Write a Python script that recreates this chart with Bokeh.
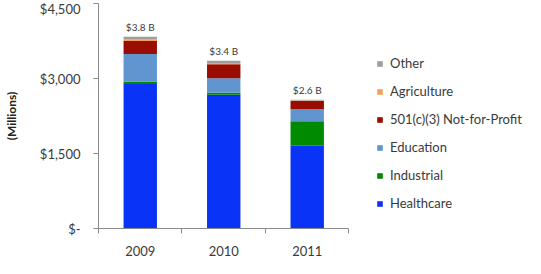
from bokeh.plotting import figure
from bokeh.models import (ColumnDataSource, Range1d, FixedTicker, Legend, LegendItem)
from bokeh.core.properties import value
from bokeh.embed import file_html
from bokeh.resources import INLINE

years = ["2009", "2010", "2011"]
healthcare = [2888, 2675, 1653]
industrial = [54, 40, 492]
education = [550, 292, 239]
nonprofit = [259, 279, 166]
agriculture = [30, 25, 10]
other = [54, 46, 15]
totals_text = ["$3.8 B", "$3.4 B", "$2.6 B"]

series_names = ["Healthcare", "Industrial", "Education", "501(c)(3) Not-for-Profit", "Agriculture", "Other"]
series_keys = ["healthcare", "industrial", "education", "nonprofit", "agriculture", "other"]
colors = ["#0A33F8", "#008A00", "#6195CF", "#990C00", "#F6A157", "#9E9E9E"]

y_ticks = [0, 1500, 3000, 4500]
y_tick_labels = ["$-", "$1,500", "$3,000", "$4,500"]

FONT = "Lato"
TXT = "#3A3A3A"
AXIS = "#8A8A8A"

FIG_W, FIG_H = 525, 258
LEFT, RIGHT, TOP, BOTTOM = 92, 1, 3, 29
CAT_AREA_PX = 254  # pixel width of the category area (axis length)

centers = [i + 0.5 for i in range(len(years))]
bounds = list(range(len(years) + 1))
totals = [sum(v) for v in zip(healthcare, industrial, education, nonprofit, agriculture, other)]

src = ColumnDataSource(dict(x=centers, healthcare=healthcare, industrial=industrial,
                            education=education, nonprofit=nonprofit,
                            agriculture=agriculture, other=other,
                            total=totals, label=totals_text))

x_end = len(years) * (FIG_W - LEFT - RIGHT) / CAT_AREA_PX

p = figure(width=FIG_W, height=FIG_H, output_backend="svg", toolbar_location=None,
           x_range=Range1d(0, x_end), y_range=Range1d(0, 4500),
           min_border_left=LEFT, min_border_right=RIGHT, min_border_top=TOP, min_border_bottom=BOTTOM)
p.outline_line_color = None
p.grid.grid_line_color = None

renderers = p.vbar_stack(series_keys, x="x", width=0.4, color=colors, line_color=None, source=src)

p.text(x="x", y="total", text="label", source=src, text_align="center", text_baseline="bottom",
       y_offset=-4, text_font=value(FONT), text_font_size="10px", text_color=TXT)

# y axis
ya = p.yaxis[0]
ya.ticker = FixedTicker(ticks=y_ticks)
ya.major_label_overrides = {t: l for t, l in zip(y_ticks, y_tick_labels)}
ya.axis_line_color = AXIS
ya.major_tick_line_color = AXIS
ya.major_tick_out = 5
ya.major_tick_in = 0
ya.minor_tick_line_color = None
ya.major_label_standoff = 13
ya.major_label_text_font = FONT
ya.major_label_text_font_size = "13px"
ya.major_label_text_color = TXT
ya.axis_label = "(Millions)"
ya.axis_label_text_font = FONT
ya.axis_label_text_font_style = "bold"
ya.axis_label_text_font_size = "12px"
ya.axis_label_text_color = "#222222"
ya.axis_label_standoff = 18

# x axis
xa = p.xaxis[0]
xa.bounds = (0, len(years))
xa.ticker = FixedTicker(ticks=centers, minor_ticks=bounds)
xa.major_label_overrides = {c: y for c, y in zip(centers, years)}
xa.axis_line_color = AXIS
xa.major_tick_line_color = None
xa.major_tick_out = 0
xa.major_tick_in = 0
xa.minor_tick_line_color = AXIS
xa.minor_tick_out = 5
xa.minor_tick_in = 0
xa.major_label_standoff = 12
xa.axis_label_standoff = 0
xa.major_label_text_font = FONT
xa.major_label_text_font_size = "13px"
xa.major_label_text_color = TXT

items = [LegendItem(label=n, renderers=[r]) for n, r in zip(series_names, renderers)][::-1]
legend = Legend(items=items, location=(278, 15), padding=0, margin=0, spacing=8,
                glyph_width=7, glyph_height=7, label_height=20, label_standoff=7,
                label_text_font=FONT, label_text_font_size="13px", label_text_color=TXT,
                background_fill_alpha=0, border_line_color=None)
p.add_layout(legend, "center")

open("out.html", "w").write(file_html(p, INLINE))
